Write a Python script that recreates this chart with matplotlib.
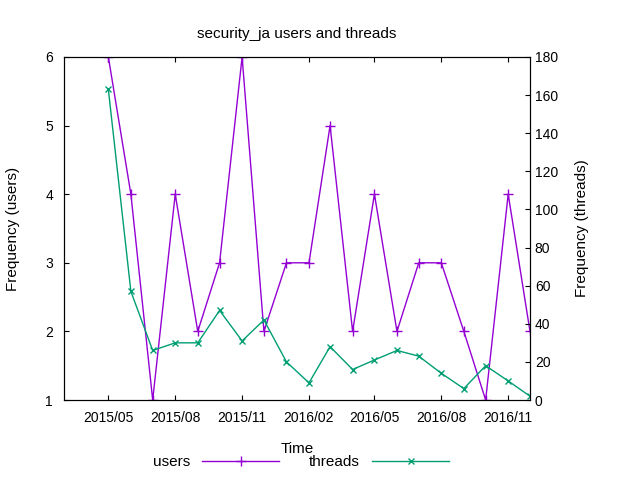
import matplotlib.pyplot as plt
import pandas as pd
import matplotlib.dates as mdates

months = pd.date_range('2015-05-01', '2016-12-01', freq='MS')
users = [6, 4, 1, 4, 2, 3, 6, 2, 3, 3, 5, 2, 4, 2, 3, 3, 2, 1, 4, 2]
threads = [163, 57, 26, 30, 30, 47, 31, 42, 20, 9, 28, 16, 21, 26, 23, 14, 6, 18, 10, 2]
tick_dates = pd.to_datetime(['2015-05-01', '2015-08-01', '2015-11-01', '2016-02-01',
                             '2016-05-01', '2016-08-01', '2016-11-01'])

plt.rcParams['font.family'] = 'Liberation Sans'
plt.rcParams['font.size'] = 10

fig = plt.figure(figsize=(6.4, 4.8), dpi=100)
ax = fig.add_axes([64/640, 80/480, 466/640, 343/480])
ax2 = ax.twinx()

l1, = ax.plot(months, users, color='#9400d3', marker='+', markersize=7, linewidth=1, label='users')
l2, = ax2.plot(months, threads, color='#009e73', marker='x', markersize=5, linewidth=1, label='threads')

ax.set_xlim(pd.Timestamp('2015-03-01'), pd.Timestamp('2016-12-01'))
ax.set_ylim(1, 6)
ax2.set_ylim(0, 180)
ax2.set_yticks(range(0, 181, 20))
ax.set_xticks(tick_dates)
ax.xaxis.set_major_formatter(mdates.DateFormatter('%Y/%m'))
ax.tick_params(direction='in', top=True)
ax.tick_params(axis='x', pad=8)
ax.tick_params(axis='y', pad=8)
ax2.tick_params(direction='in')

ax.set_title('security_ja users and threads', fontsize=11, pad=14)
ax.set_xlabel('Time', fontsize=11, labelpad=12)
ax.set_ylabel('Frequency (users)', fontsize=11, labelpad=18)
ax2.set_ylabel('Frequency (threads)', fontsize=11, labelpad=12)

fig.legend([l1, l2], ['users', 'threads'], loc='lower center', ncol=2, frameon=False,
           bbox_to_anchor=(0.47, 0.0), handlelength=5, markerfirst=False, fontsize=11,
           borderpad=0.2)

plt.savefig('out.png')
